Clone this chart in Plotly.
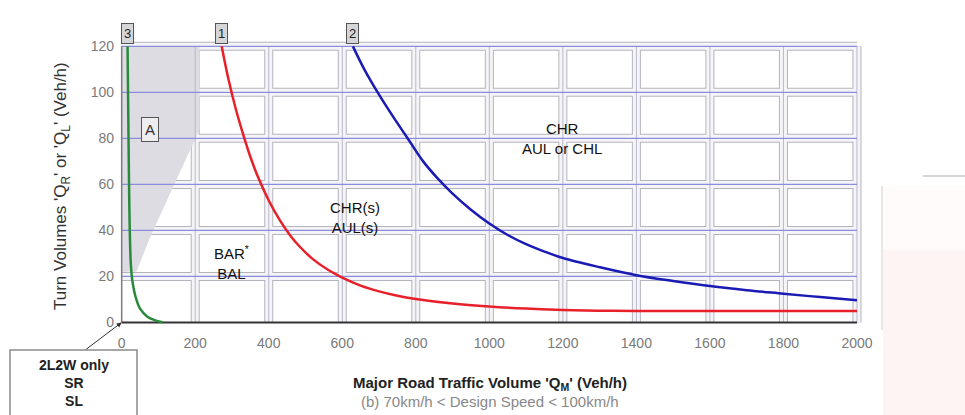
import plotly.graph_objects as go

# ---- data -------------------------------------------------------------
x_ticks = [0, 200, 400, 600, 800, 1000, 1200, 1400, 1600, 1800, 2000]
y_ticks = [0, 20, 40, 60, 80, 100, 120]

# curve 1 (red): CHR(s)/AUL(s) boundary
curve1_x = [272, 290, 310, 330, 350, 370, 400, 430, 460, 484, 520, 560, 600, 650,
            700, 750, 800, 900, 1000, 1100, 1200, 1300, 1400, 1600, 1800, 2000]
curve1_y = [120, 106, 93, 82, 72, 63.5, 53, 44.5, 37.5, 33, 27.5, 23, 19.5, 16,
            13.5, 11.6, 10.2, 8.2, 6.9, 6, 5.4, 5.1, 5, 5, 5, 5]

# curve 2 (blue): CHR / AUL or CHL boundary
curve2_x = [629, 660, 700, 740, 780, 820, 860, 900, 950, 1000, 1050, 1100, 1150,
            1200, 1300, 1400, 1500, 1600, 1700, 1800, 1900, 2000]
curve2_y = [120, 110, 99, 89, 79.5, 70, 62.5, 56, 49, 43, 38, 34, 30.8,
            28, 24, 20.5, 18, 15.8, 14, 12.5, 11, 9.6]

# curve 3 (green): 2L2W only boundary
curve3_x = [16, 18, 20, 22, 25, 30, 38, 50, 70, 90, 112]
curve3_y = [120, 90, 60, 40, 25, 17, 11, 6, 2.5, 1, 0]

# shaded zone "A"
zone_a_x = [0, 212, 212, 80, 40, 0]
zone_a_y = [120, 120, 84, 38, 22, 22]

# ---- layout geometry --------------------------------------------------
W, H = 965, 415
ML, MR, MT, MB = 118, 97, 39, 88
PW, PH = W - ML - MR, H - MT - MB


def px(x):
    return (x - ML) / PW


def py(y):
    return (H - MB - y) / PH


fig = go.Figure()

shapes = []
x_min, x_max = x_ticks[0], x_ticks[-1]
y_min, y_max = y_ticks[0], y_ticks[-1]

# grid bands (outlined light bands)
for xv in x_ticks[1:]:
    shapes.append(dict(type="line", xref="x", yref="y", x0=xv, x1=xv, y0=y_min, y1=y_max,
                       line=dict(color="#b4b4bc", width=9), layer="below"))
for yv in y_ticks[1:]:
    shapes.append(dict(type="line", xref="x", yref="y", x0=x_min, x1=x_max, y0=yv, y1=yv,
                       line=dict(color="#b4b4bc", width=9), layer="below"))
for xv in x_ticks[1:]:
    shapes.append(dict(type="line", xref="x", yref="y", x0=xv, x1=xv, y0=y_min, y1=y_max,
                       line=dict(color="#f5f5f7", width=7), layer="below"))
for yv in y_ticks[1:]:
    shapes.append(dict(type="line", xref="x", yref="y", x0=x_min, x1=x_max, y0=yv, y1=yv,
                       line=dict(color="#f5f5f7", width=7), layer="below"))

# shaded zone A
path = "M " + " L ".join(f"{a},{b}" for a, b in zip(zone_a_x, zone_a_y)) + " Z"
shapes.append(dict(type="path", xref="x", yref="y", path=path,
                   fillcolor="#dcdce2", line=dict(width=0), layer="below"))

# thin centre lines of the grid
for xv in x_ticks[1:]:
    shapes.append(dict(type="line", xref="x", yref="y", x0=xv, x1=xv, y0=y_min, y1=y_max,
                       line=dict(color="#b8b8d4", width=1), layer="below"))
for yv in y_ticks[1:]:
    shapes.append(dict(type="line", xref="x", yref="y", x0=x_min, x1=x_max, y0=yv, y1=yv,
                       line=dict(color="#8c8cdc", width=1.2), layer="below"))

# axis lines
shapes.append(dict(type="line", xref="x", yref="y", x0=0, x1=0, y0=y_min, y1=y_max,
                   line=dict(color="#7a7a80", width=1.5), layer="below"))
shapes.append(dict(type="line", xref="x", yref="y", x0=x_min, x1=x_max, y0=0, y1=0,
                   line=dict(color="#333333", width=2), layer="below"))

# faint panel on the right
shapes.append(dict(type="rect", xref="paper", yref="paper",
                   x0=px(883), x1=px(965), y0=py(415), y1=py(250),
                   fillcolor="#fdf5f3", line=dict(width=0), layer="below"))
shapes.append(dict(type="rect", xref="paper", yref="paper",
                   x0=px(883), x1=px(965), y0=py(250), y1=py(186),
                   fillcolor="#fefbfa", line=dict(width=0), layer="below"))
shapes.append(dict(type="line", xref="paper", yref="paper",
                   x0=px(882), x1=px(882), y0=py(330), y1=py(186),
                   line=dict(color="#cfcfcf", width=1)))
shapes.append(dict(type="line", xref="paper", yref="paper",
                   x0=px(923), x1=px(965), y0=py(176), y1=py(176),
                   line=dict(color="#c8c8c8", width=1.5)))

# box for the 2L2W note
shapes.append(dict(type="rect", xref="paper", yref="paper",
                   x0=px(10), x1=px(137), y0=py(430), y1=py(350),
                   line=dict(color="#8a8a8a", width=1.5), fillcolor="white"))

# ---- curves -----------------------------------------------------------
fig.add_trace(go.Scatter(x=curve3_x, y=curve3_y, mode="lines",
                         line=dict(color="#2a8a3c", width=2.5, shape="spline", smoothing=0.8),
                         hoverinfo="skip"))
fig.add_trace(go.Scatter(x=curve1_x, y=curve1_y, mode="lines",
                         line=dict(color="#e8202a", width=2.5, shape="spline", smoothing=1.0),
                         hoverinfo="skip"))
fig.add_trace(go.Scatter(x=curve2_x, y=curve2_y, mode="lines",
                         line=dict(color="#1a1ab4", width=2.5, shape="spline", smoothing=1.0),
                         hoverinfo="skip"))

# ---- annotations ------------------------------------------------------
ann = []
label_font = dict(family="Arial", size=15, color="#111111")

for txt, xv in [("3", curve3_x[0]), ("1", curve1_x[0]), ("2", curve2_x[0])]:
    ann.append(dict(x=xv, y=y_max, xref="x", yref="y", text=txt, showarrow=False,
                    xanchor="center", yanchor="middle",
                    yshift=13, font=dict(family="Arial", size=13, color="#222"),
                    bgcolor="#d6d6d8", bordercolor="#555", borderwidth=1, borderpad=2))

ann.append(dict(x=76, y=84, xref="x", yref="y", text="A", showarrow=False,
                xanchor="center", yanchor="middle",
                font=dict(family="Arial", size=15, color="#333"),
                bgcolor="#eeeef0", bordercolor="#555", borderwidth=1, borderpad=3))

for txt, xv, yv in [("BAR<sup>*</sup><br>BAL", 299, 26),
                    ("CHR(s)<br>AUL(s)", 634, 45.5),
                    ("CHR<br>AUL or CHL", 1197, 80)]:
    ann.append(dict(x=xv, y=yv, xref="x", yref="y", text=txt, showarrow=False,
                    xanchor="center", yanchor="middle", font=label_font, align="center"))

# 2L2W note with arrow to the origin
ann.append(dict(x=0, y=0, xref="x", yref="y", text="", showarrow=True,
                ax=-37, ay=28, arrowhead=2, arrowsize=1, arrowwidth=1, arrowcolor="#333"))
ann.append(dict(x=px(74), y=py(383), xref="paper", yref="paper",
                xanchor="center", yanchor="middle",
                text="<b>2L2W only<br>SR<br>SL</b>", showarrow=False, align="center",
                font=dict(family="Arial", size=14, color="#222")))

# axis titles
ann.append(dict(x=px(62), y=py(186), xref="paper", yref="paper", textangle=-90,
                xanchor="center", yanchor="middle",
                text="Turn Volumes 'Q<sub>R</sub>' or 'Q<sub>L</sub>' (Veh/h)",
                showarrow=False, font=dict(family="Arial", size=17, color="#333")))
ann.append(dict(x=px(490), y=py(383), xref="paper", yref="paper",
                xanchor="center", yanchor="middle",
                text="<b>Major Road Traffic Volume 'Q<sub>M</sub>' (Veh/h)</b>",
                showarrow=False, font=dict(family="Arial", size=15, color="#222")))
ann.append(dict(x=px(490), y=py(401), xref="paper", yref="paper",
                xanchor="center", yanchor="middle",
                text="(b) 70km/h &lt; Design Speed &lt; 100km/h",
                showarrow=False, font=dict(family="Arial", size=15, color="#888")))

fig.update_layout(
    width=W, height=H,
    margin=dict(l=ML, r=MR, t=MT, b=MB),
    paper_bgcolor="white", plot_bgcolor="white",
    showlegend=False,
    shapes=shapes,
    annotations=ann,
    xaxis=dict(range=[-10, 2030], tickvals=x_ticks, ticktext=[str(v) for v in x_ticks],
               showgrid=False, zeroline=False, showline=False, ticks="",
               ticklabelstandoff=6,
               tickfont=dict(family="Arial", size=14, color="#7a7a7a")),
    yaxis=dict(range=[-2, 123.2], tickvals=y_ticks, ticktext=[str(v) for v in y_ticks],
               showgrid=False, zeroline=False, showline=False, ticks="",
               ticklabelstandoff=3,
               tickfont=dict(family="Arial", size=14, color="#7a7a7a")),
)

fig.write_html("out.html")
